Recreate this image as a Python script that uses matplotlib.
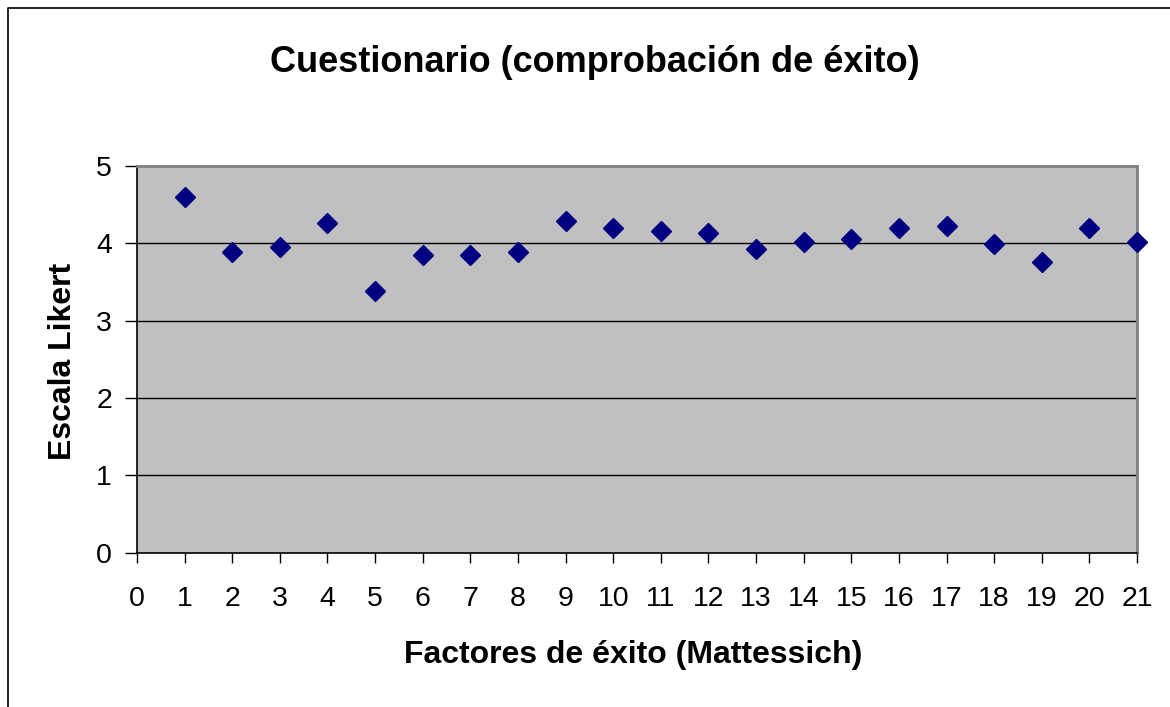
import matplotlib
matplotlib.use("Agg")
import matplotlib.pyplot as plt
from matplotlib.lines import Line2D

factors = list(range(1, 22))
likert = [4.60, 3.88, 3.95, 4.26, 3.38, 3.85, 3.85, 3.885, 4.29, 4.19, 4.16,
          4.13, 3.92, 4.02, 4.05, 4.19, 4.22, 3.99, 3.75, 4.19, 4.02]
x_ticks = list(range(0, 22))
y_ticks = [0, 1, 2, 3, 4, 5]

title = "Cuestionario (comprobación de éxito)"
xlabel = "Factores de éxito (Mattessich)"
ylabel = "Escala Likert"

plt.rcParams['font.family'] = ['Liberation Sans', 'DejaVu Sans']

W, H = 1170, 707
fig = plt.figure(figsize=(W / 100, H / 100), dpi=100)
fig.patch.set_facecolor('white')

def fx(px):
    return px / W

def fy(py):
    return 1 - py / H

left, right, top, bottom = 137, 1137, 165.7, 552.7
ax = fig.add_axes([fx(left), fy(bottom), fx(right) - fx(left), (bottom - top) / H])
ax.set_facecolor('#C0C0C0')
ax.set_xlim(0, 21)
ax.set_ylim(0, 5)

for g in [1, 2, 3, 4]:
    ax.axhline(g, color='black', lw=1.0, zorder=1)

ax.plot(factors, likert, linestyle='none', marker='D', markersize=10.5,
        color='#000080', markeredgecolor='#000080', clip_on=False, zorder=3)

ax.set_xticks(x_ticks)
ax.set_yticks(y_ticks)
ax.tick_params(axis='x', direction='out', length=7, width=1, color='black',
               labelsize=20.5, pad=17)
ax.tick_params(axis='y', direction='out', length=9, width=1, color='black',
               labelsize=20.5, pad=9)

for s in ['left', 'bottom']:
    ax.spines[s].set_color('black')
    ax.spines[s].set_linewidth(1.2)
for s in ['top', 'right']:
    ax.spines[s].set_color('#808080')
    ax.spines[s].set_linewidth(2)

fig.text(fx(595), fy(62), title, ha='center', va='center',
         fontsize=26, fontweight='bold')
fig.text(fx(633), fy(655), xlabel, ha='center', va='center',
         fontsize=23, fontweight='bold')
fig.text(fx(63), fy(361), ylabel, ha='center', va='center',
         fontsize=23, fontweight='bold', rotation=90)

fig.add_artist(Line2D([fx(8), fx(8), fx(1170)], [fy(707), fy(8), fy(8)],
                      color='black', lw=1.2, transform=fig.transFigure))

fig.savefig('out.png', dpi=100)
